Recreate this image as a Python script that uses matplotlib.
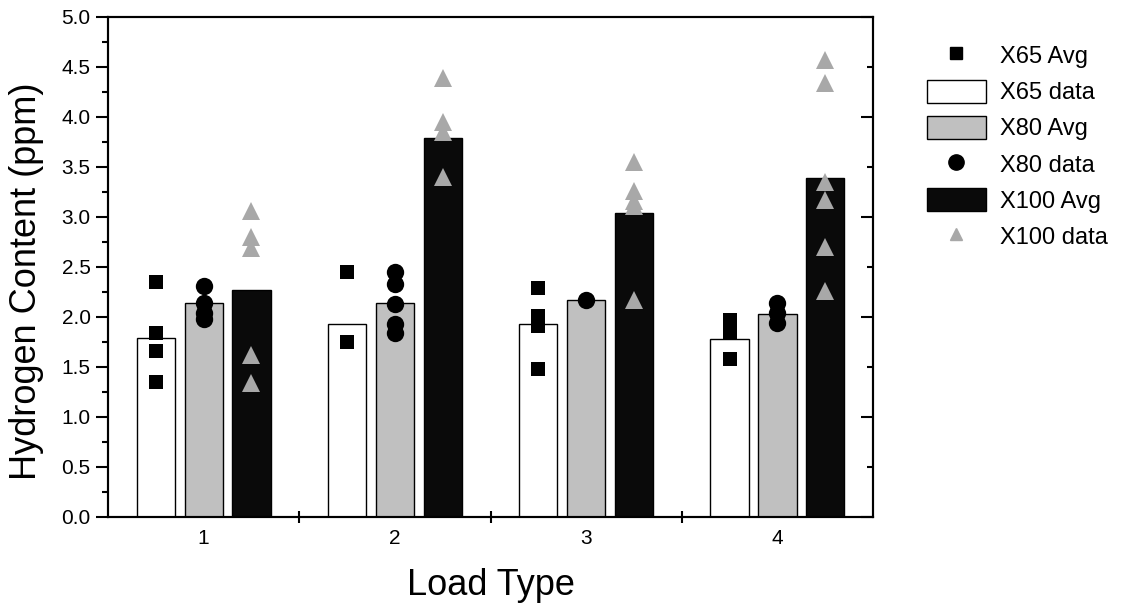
import matplotlib
matplotlib.use("Agg")
import matplotlib.pyplot as plt
from matplotlib.lines import Line2D
from matplotlib.patches import Patch
from matplotlib.ticker import MultipleLocator, FixedLocator, NullFormatter

plt.rcParams["font.family"] = ["Liberation Sans", "DejaVu Sans"]

# ── Data ────────────────────────────────────────────────────────────────────
load_types = [1, 2, 3, 4]

x65_avg = [1.79, 1.93, 1.93, 1.78]
x80_avg = [2.14, 2.14, 2.17, 2.03]
x100_avg = [2.27, 3.79, 3.04, 3.39]

x65_data = [
    [2.35, 1.84, 1.66, 1.35],
    [2.45, 1.75],
    [2.29, 2.01, 1.91, 1.48],
    [1.97, 1.90, 1.84, 1.58],
]
x80_data = [
    [2.31, 2.14, 2.04, 1.98],
    [2.45, 2.33, 2.13, 1.93, 1.84],
    [2.17],
    [2.14, 2.04, 1.94],
]
x100_data = [
    [3.06, 2.80, 2.69, 1.62, 1.34],
    [4.39, 3.95, 3.85, 3.40],
    [3.55, 3.26, 3.16, 3.11, 2.17],
    [4.57, 4.34, 3.35, 3.17, 2.70, 2.26],
]

# ── Styling ────────────────────────────────────────────────────────────────
GRAY_BAR = "#c0c0c0"
BLACK_BAR = "#0a0a0a"
TRI_GRAY = "#a8a8a8"
OFFSET = 0.25
WIDTH = 0.2

fig = plt.figure(figsize=(11.43, 6.08), dpi=100)
ax = fig.add_axes([0.0945, 0.1502, 0.6693, 0.8224])

series = [
    (-OFFSET, x65_avg, "white", x65_data, dict(marker="s", ms=10, color="black")),
    (0.0, x80_avg, GRAY_BAR, x80_data, dict(marker="o", ms=12.5, color="black")),
    (OFFSET, x100_avg, BLACK_BAR, x100_data, dict(marker="^", ms=12.5, color=TRI_GRAY)),
]

for off, avg, face, pts, mstyle in series:
    ax.bar([c + off for c in load_types], avg, width=WIDTH, color=face,
           edgecolor="black", linewidth=1.0, zorder=2)
    for c, vals in zip(load_types, pts):
        ax.plot([c + off] * len(vals), vals, linestyle="none",
                markeredgewidth=0, zorder=3, **mstyle)

# ── Axes ───────────────────────────────────────────────────────────────────
ax.set_xlim(0.5, 4.5)
ax.set_ylim(0, 5.0)

ax.xaxis.set_major_locator(FixedLocator([1.5, 2.5, 3.5]))
ax.xaxis.set_major_formatter(NullFormatter())
ax.xaxis.set_minor_locator(FixedLocator(load_types))
ax.set_xticklabels([str(c) for c in load_types], minor=True)
ax.tick_params(axis="x", which="major", direction="inout", length=9, width=1.5)
ax.tick_params(axis="x", which="minor", length=0, pad=9, labelsize=15)

ax.yaxis.set_major_locator(MultipleLocator(0.5))
ax.yaxis.set_minor_locator(MultipleLocator(0.25))
ax.yaxis.set_major_formatter(plt.FormatStrFormatter("%.1f"))
ax.tick_params(axis="y", which="major", direction="out", length=8.5, width=1.5,
               labelsize=15, pad=4)
ax.tick_params(axis="y", which="minor", direction="out", length=4.5, width=1.5)

for spine in ax.spines.values():
    spine.set_linewidth(1.5)

# right-hand axis: inward ticks only
ax2 = ax.twinx()
ax2.set_ylim(ax.get_ylim())
ax2.yaxis.set_major_locator(MultipleLocator(1.0))
ax2.yaxis.set_minor_locator(MultipleLocator(0.5))
ax2.yaxis.set_major_formatter(NullFormatter())
ax2.tick_params(axis="y", which="major", direction="in", length=8.5, width=1.5)
ax2.tick_params(axis="y", which="minor", direction="in", length=4.5, width=1.5)
for spine in ax2.spines.values():
    spine.set_linewidth(1.5)

ax.set_xlabel("Load Type", fontsize=26)
ax.xaxis.set_label_coords(0.5, -0.102)
ax.set_ylabel("Hydrogen Content (ppm)", fontsize=26)
ax.yaxis.set_label_coords(-0.084, 0.471)

# ── Legend (labels kept as in the original figure) ────────────────────────
handles = [
    Line2D([], [], marker="s", ms=9, color="black", linestyle="none"),
    Patch(facecolor="white", edgecolor="black", linewidth=1.0),
    Patch(facecolor=GRAY_BAR, edgecolor="black", linewidth=1.0),
    Line2D([], [], marker="o", ms=11, color="black", linestyle="none"),
    Patch(facecolor=BLACK_BAR, edgecolor="black", linewidth=1.0),
    Line2D([], [], marker="^", ms=8, color=TRI_GRAY, linestyle="none"),
]
labels = ["X65 Avg", "X65 data", "X80 Avg", "X80 data", "X100 Avg", "X100 data"]
fig.legend(handles, labels, loc="upper left", bbox_to_anchor=(0.811, 0.928),
           frameon=False, fontsize=17, handlelength=2.5, handleheight=1.1,
           handletextpad=0.6, labelspacing=0.5, borderaxespad=0, borderpad=0)

fig.savefig("out.png", dpi=100)
